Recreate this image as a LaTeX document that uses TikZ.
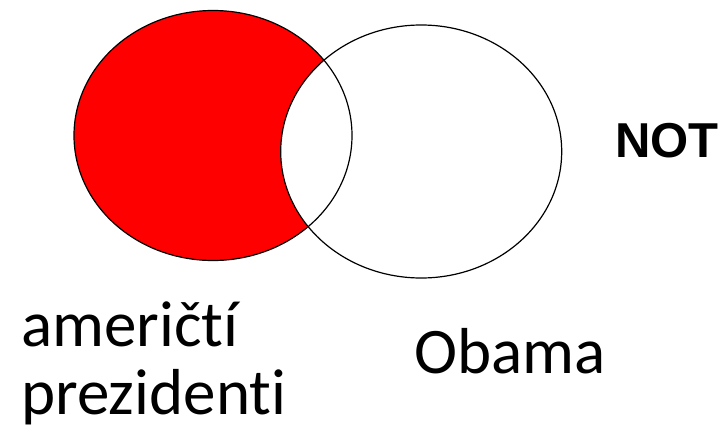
\documentclass[tikz,border=0pt]{standalone}
\usepackage{fontspec}
\setmainfont[Ligatures={NoCommon}]{Carlito}
\newfontfamily\notfont{Liberation Sans}
\usetikzlibrary{positioning}

\begin{document}
\begin{tikzpicture}[x=1pt, y=-1pt, set/.style={draw=black, line width=1.2pt},
		lbl/.style={inner sep=0pt, anchor=base west, font=\fontsize{65}{76}\selectfont}]
		\useasboundingbox (0,0) rectangle (728,431);
		% left set filled, lens left white
		\fill[red] (213,135.5) ellipse [x radius=139, y radius=125];
		\fill[white] (421.2,151.5) ellipse [x radius=140.5, y radius=126.5];
		\draw[set] (213,135.5) ellipse [x radius=139, y radius=125];
		\draw[set] (421.2,151.5) ellipse [x radius=140.5, y radius=126.5];
		\node (A1) [lbl] at (21,346) {američtí};
		\node (A2) [lbl] at (21,414) {prezidenti};
		\node (O) [lbl] at (414,373) {Obama};
		\node (N) [lbl, font=\notfont\bfseries\fontsize{49}{52}\selectfont] at (615,157) {NOT};
	\end{tikzpicture}
\end{document}
